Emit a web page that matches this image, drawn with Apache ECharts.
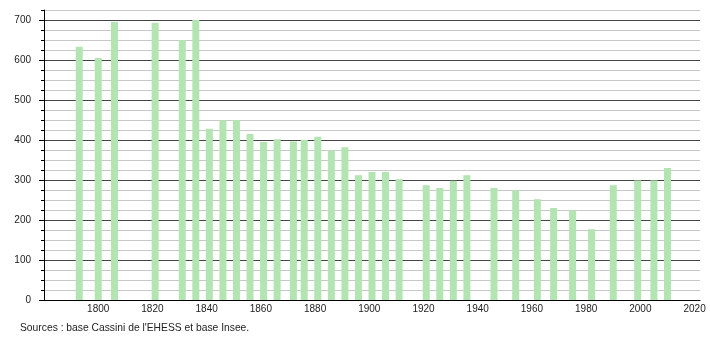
<!DOCTYPE html>
<html>
<head>
<meta charset="utf-8">
<script src="https://cdn.jsdelivr.net/npm/echarts@6/dist/echarts.min.js"></script>
<style>
html,body{margin:0;padding:0;background:#fff;}
#chart{width:710px;height:340px;}
</style>
</head>
<body>
<div id="chart"></div>
<script>
const years = [1793, 1800, 1806, 1821, 1831, 1836, 1841, 1846, 1851, 1856, 1861, 1866, 1872, 1876, 1881, 1886, 1891, 1896, 1901, 1906, 1911, 1921, 1926, 1931, 1936, 1946, 1954, 1962, 1968, 1975, 1982, 1990, 1999, 2005, 2010];
const population = [633, 605, 695, 693, 650, 700, 428, 449, 450, 415, 395, 402, 396, 400, 408, 374, 382, 312, 320, 320, 302, 287, 280, 298, 312, 280, 274, 252, 230, 224, 177, 287, 299, 299, 330];
const yMajorTicks = [0, 100, 200, 300, 400, 500, 600, 700];
const xTickLabels = [1800, 1820, 1840, 1860, 1880, 1900, 1920, 1940, 1960, 1980, 2000, 2020];
const sourceText = "Sources : base Cassini de l'EHESS et base Insee.";

const chart = echarts.init(document.getElementById('chart'));
const font = 'Liberation Sans, Arial, sans-serif';
chart.setOption({
  animation: false,
  backgroundColor: '#ffffff',
  grid: {left: 44, right: 10, top: 10, bottom: 40, containLabel: false},
  graphic: [{
    type: 'text', left: 20, top: 323,
    style: {text: sourceText, font: '10.3px ' + font, fill: '#222'}
  }],
  xAxis: {
    type: 'value', min: 1780, max: 2022, interval: 20,
    axisLine: {show: true, onZero: false, lineStyle: {color: '#000', width: 1}},
    axisTick: {show: false},
    splitLine: {show: false},
    axisLabel: {
      customValues: xTickLabels,
      formatter: v => String(v),
      margin: 4, color: '#222', fontFamily: font, fontSize: 10
    }
  },
  yAxis: [{
    type: 'value', min: 0, max: 725, interval: 25,
    axisLine: {show: true, lineStyle: {color: '#000', width: 1}},
    axisTick: {show: true, length: 3, lineStyle: {color: '#000'}},
    axisLabel: {customValues: yMajorTicks, formatter: v => String(v), margin: 13, color: '#222', fontFamily: font, fontSize: 10},
    splitLine: {show: true, lineStyle: {color: ['#444', '#c8c8c8', '#c8c8c8', '#c8c8c8'], width: 1}}
  }, {
    type: 'value', min: 0, max: 725, interval: 25, position: 'left',
    axisLine: {show: false},
    axisTick: {show: true, customValues: yMajorTicks, length: 5, lineStyle: {color: '#000'}},
    axisLabel: {show: false},
    splitLine: {show: false}
  }],
  series: [{
    type: 'bar',
    yAxisIndex: 0,
    data: years.map((y, i) => [y, population[i]]),
    barWidth: 7,
    itemStyle: {color: '#b3e5b3'}
  }]
});
</script>
</body>
</html>
